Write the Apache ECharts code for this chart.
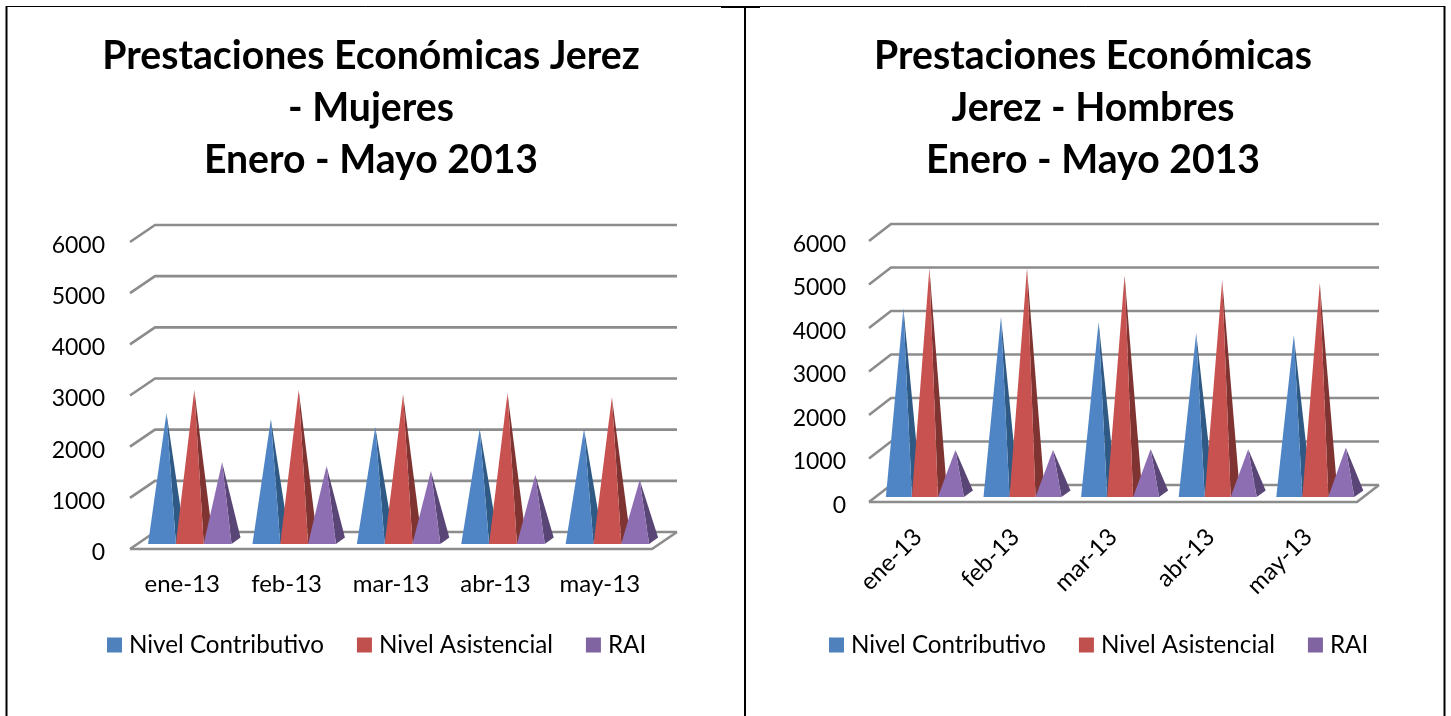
<!DOCTYPE html>
<html>
<head>
<meta charset="utf-8">
<title>Prestaciones Económicas Jerez</title>
<style>
	html, body { margin: 0; padding: 0; background: #fff; }
	#chart { width: 1451px; height: 716px; }
</style>
<script src="https://cdn.jsdelivr.net/npm/echarts@6/dist/echarts.min.js"></script>
</head>
<body>
<div id="chart"></div>
<script>
// datos
var categories = ['ene-13', 'feb-13', 'mar-13', 'abr-13', 'may-13'];
var seriesNames = ['Nivel Contributivo', 'Nivel Asistencial', 'RAI'];
var yTicks = [0, 1000, 2000, 3000, 4000, 5000, 6000];

var mujeresContributivo = [2490, 2370, 2220, 2180, 2180];
var mujeresAsistencial = [2940, 2940, 2860, 2880, 2800];
var mujeresRai = [1530, 1455, 1360, 1280, 1180];

var hombresContributivo = [4260, 4060, 3940, 3690, 3640];
var hombresAsistencial = [5180, 5180, 5020, 4910, 4840];
var hombresRai = [1000, 1000, 1020, 1020, 1050];

var legendColors = ['#4F81BD', '#C0504D', '#8064A2'];
var frontColors = ['#5085C5', '#C75250', '#8E6EB3'];
var sideColors = ['#2F5A85', '#7F3432', '#5A4676'];
var gridColor = '#8C8C8C';
var fontName = 'Lato';

// profundidad de la caja 3D, una por grafico
var depthXs = [25, 22];
var depthY = 17;

function gridLineRenderer(depthX) {
	return function(params, api) {
		var cs = params.coordSys;
		var y = api.coord([0, api.value(1)])[1];
		var style = { stroke: gridColor, lineWidth: 2.6, fill: null };
		var children = [{
			type: 'polyline',
			shape: { points: [[cs.x, y], [cs.x + depthX, y - depthY], [cs.x + cs.width + depthX, y - depthY]] },
			style: style
		}];
		if (api.value(1) === 0) {
			children.push({
				type: 'polyline',
				shape: { points: [[cs.x, y], [cs.x + cs.width, y], [cs.x + cs.width + depthX, y - depthY]] },
				style: style
			});
		}
		return { type: 'group', children: children };
	};
}

function pyramidRenderer(index) {
	return function(params, api) {
		var band = api.size([1, 0])[0];
		var w = band * 0.2665;
		var center = api.coord([api.value(0), 0]);
		var apexY = api.coord([api.value(0), api.value(1)])[1] - 8.5;
		var x0 = center[0] + band * 0.0727 - w * 1.5 + w * index;
		var x1 = x0 + w;
		var yFront = center[1] - 5;
		var yBack = center[1] - 11.5;
		var apex = [(x0 + x1) / 2 + 4.5, apexY];
		return {
			type: 'group',
			children: [
				{
					type: 'polygon',
					shape: { points: [[x1, yFront], [x1 + 9, yBack], apex] },
					style: { fill: sideColors[index] }
				},
				{
					type: 'polygon',
					shape: { points: [[x0, yFront], [x1, yFront], apex] },
					style: { fill: frontColors[index] }
				}
			]
		};
	};
}

function toPoints(values) {
	return values.map(function(v, i) { return [i, v]; });
}

function buildSeries(gridIndex, valueLists) {
	var list = [{
		type: 'custom',
		name: 'grid',
		xAxisIndex: gridIndex,
		yAxisIndex: gridIndex,
		silent: true,
		clip: false,
		z: 1,
		data: yTicks.map(function(v) { return [0, v]; }),
		renderItem: gridLineRenderer(depthXs[gridIndex])
	}];
	for (var i = 0; i < valueLists.length; i++) {
		list.push({
			type: 'custom',
			name: seriesNames[i],
			xAxisIndex: gridIndex,
			yAxisIndex: gridIndex,
			clip: false,
			z: 2 + i,
			itemStyle: { color: legendColors[i] },
			encode: { x: 0, y: 1 },
			data: toPoints(valueLists[i]),
			renderItem: pyramidRenderer(i)
		});
	}
	return list;
}

function xAxis(gridIndex, rotate, margin) {
	return {
		type: 'category',
		gridIndex: gridIndex,
		data: categories,
		axisLine: { show: false },
		axisTick: { show: false },
		axisLabel: { rotate: rotate, margin: margin, interval: 0, color: '#000', fontSize: 24, fontFamily: fontName }
	};
}

function yAxis(gridIndex, margin) {
	return {
		type: 'value',
		gridIndex: gridIndex,
		min: 0,
		max: 6000,
		interval: 1000,
		axisLine: { show: false },
		axisTick: { show: false },
		splitLine: { show: false },
		axisLabel: {
			margin: margin,
			color: '#000',
			fontSize: 23,
			fontFamily: fontName,
			verticalAlign: 'top',
			lineHeight: 7,
			formatter: function(v) { return String(v); }
		}
	};
}

function legend(left) {
	return {
		left: left,
		top: 628,
		icon: 'rect',
		itemWidth: 15,
		itemHeight: 15,
		itemGap: 33,
		selectedMode: false,
		data: seriesNames,
		textStyle: { color: '#000', fontSize: 24.2, fontFamily: fontName, padding: [0, 0, 0, 2] }
	};
}

function title(x, text) {
	return {
		text: text,
		left: x,
		top: 25,
		textAlign: 'center',
		textStyle: { color: '#000', fontSize: 39.2, fontWeight: 'bold', lineHeight: 52, fontFamily: fontName }
	};
}

function frameLine(x1, y1, x2, y2, width) {
	return {
		type: 'line',
		silent: true,
		shape: { x1: x1, y1: y1, x2: x2, y2: y2 },
		style: { stroke: '#000', lineWidth: width }
	};
}

var chart = echarts.init(document.getElementById('chart'));
chart.setOption({
	animation: false,
	backgroundColor: '#fff',
	title: [
		title(366, 'Prestaciones Económicas Jerez\n- Mujeres\nEnero - Mayo 2013'),
		title(1088, 'Prestaciones Económicas\nJerez - Hombres\nEnero - Mayo 2013')
	],
	legend: [legend(102), legend(824)],
	grid: [
		{ left: 130, top: 242, width: 522, height: 307 },
		{ left: 869, top: 241, width: 488, height: 261 }
	],
	xAxis: [xAxis(0, 0, 23), xAxis(1, 45, 31)],
	yAxis: [yAxis(0, 25), yAxis(1, 23)],
	series: buildSeries(0, [mujeresContributivo, mujeresAsistencial, mujeresRai])
		.concat(buildSeries(1, [hombresContributivo, hombresAsistencial, hombresRai])),
	graphic: [
		frameLine(6, 6.5, 1445, 6.5, 1),
		frameLine(721, 7, 760, 7, 2),
		frameLine(6.5, 6, 6.5, 716, 2),
		frameLine(745, 6, 745, 716, 2),
		frameLine(1444.5, 6, 1444.5, 716, 2)
	]
});
</script>
</body>
</html>
